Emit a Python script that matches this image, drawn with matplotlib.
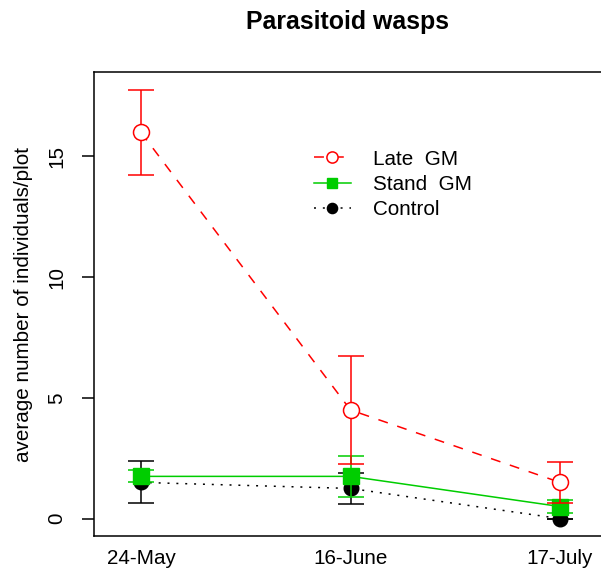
import matplotlib
matplotlib.use("Agg")
import matplotlib.pyplot as plt

dates = ["24-May", "16-June", "17-July"]
x_pos = [1, 2, 3]
late_gm = [16.0, 4.5, 1.5]
late_gm_err = [1.75, 2.25, 0.86]
stand_gm = [1.75, 1.75, 0.5]
stand_gm_err = [0.25, 0.85, 0.27]
control = [1.5, 1.25, 0.0]
control_err = [0.87, 0.63, 0.0]
y_ticks = [0, 5, 10, 15]

plt.rcParams['font.family'] = ['Liberation Sans', 'DejaVu Sans']
FS = 14.9

fig = plt.figure(figsize=(6.01, 5.75), dpi=100)
ax = fig.add_axes([94/601, 39/575, (607-94)/601, (536-72)/575])

green = "#00CD00"
cap = 9.4

# Control
ax.errorbar(x_pos, control, yerr=control_err, fmt='none', ecolor='black',
            elinewidth=1.1, capsize=cap, capthick=1.1, zorder=2)
ax.plot(x_pos, control, color='black', linestyle=(0, (1.3, 4.5)), linewidth=1.1,
        marker='o', markersize=10.5, markerfacecolor='black',
        markeredgecolor='black', zorder=3, label='Control')
# Stand GM
ax.errorbar(x_pos, stand_gm, yerr=stand_gm_err, fmt='none', ecolor=green,
            elinewidth=1.1, capsize=cap, capthick=1.1, zorder=4)
ax.plot(x_pos, stand_gm, color=green, linestyle='-', linewidth=1.1,
        marker='s', markersize=11, markerfacecolor=green,
        markeredgecolor=green, zorder=5, label='Stand  GM')
# Late GM
ax.errorbar(x_pos, late_gm, yerr=late_gm_err, fmt='none', ecolor='red',
            elinewidth=1.1, capsize=cap, capthick=1.1, zorder=6)
ax.plot(x_pos, late_gm, color='red', linestyle=(0, (6.5, 6.5)), linewidth=1.1,
        marker='o', markersize=11.5, markerfacecolor='white',
        markeredgecolor='red', markeredgewidth=1.1, zorder=7, label='Late  GM')

ax.set_xlim(0.776, 3.224)
ax.set_ylim(-0.72, 18.5)

ax.set_yticks(y_ticks)
ax.set_yticklabels([str(v) for v in y_ticks], rotation=90, va='center',
                   fontsize=FS)
ax.tick_params(axis='y', length=9, width=1.1, pad=11)
ax.set_xticks(x_pos)
ax.set_xticklabels(dates, fontsize=FS)
ax.tick_params(axis='x', length=0, pad=9)

for s in ax.spines.values():
    s.set_linewidth(1.1)

ax.set_ylabel("average number of individuals/plot", fontsize=FS, labelpad=10)

fig.text(347/601, 1 - 22/575, "Parasitoid wasps", fontsize=17.9,
         fontweight='bold', ha='center', va='center')

handles, labels = ax.get_legend_handles_labels()
order = [2, 1, 0]
leg = ax.legend([handles[i] for i in order], [labels[i] for i in order],
                loc='upper left', bbox_to_anchor=((295-94)/513, (536-131)/464),
                frameon=False, fontsize=FS, markerscale=0.7,
                handlelength=1.8, handletextpad=1.05, labelspacing=0.3)

fig.savefig("out.png", dpi=100)
